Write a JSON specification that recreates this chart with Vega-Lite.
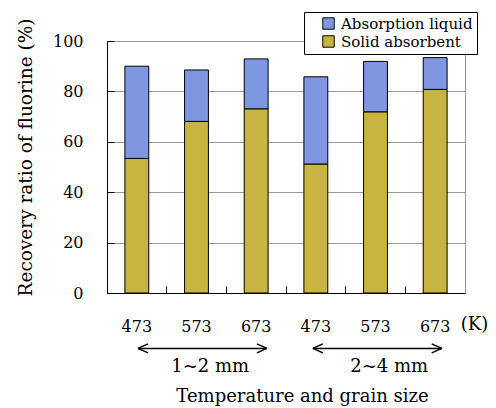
{
  "$schema": "https://vega.github.io/schema/vega-lite/v6.json",
  "width": 358,
  "height": 252,
  "autosize": {"type": "none"},
  "padding": {"left": 107, "top": 41, "right": 31, "bottom": 115},
  "background": "white",
  "config": {
    "font": "DejaVu Serif",
    "view": {"stroke": "#999999", "strokeWidth": 1},
    "axis": {
      "domainColor": "black",
      "tickColor": "black",
      "labelColor": "black",
      "titleColor": "black",
      "labelFont": "DejaVu Serif",
      "titleFont": "DejaVu Serif",
      "titleFontWeight": "normal"
    },
    "legend": {"labelFont": "DejaVu Serif"},
    "text": {"font": "DejaVu Serif"}
  },
  "layer": [
    {
      "data": {
        "values": [
          {"bar": "1~2 mm 473", "type": "Solid absorbent", "value": 53.4, "order": 1},
          {"bar": "1~2 mm 473", "type": "Absorption liquid", "value": 36.6, "order": 2},
          {"bar": "1~2 mm 573", "type": "Solid absorbent", "value": 68.1, "order": 1},
          {"bar": "1~2 mm 573", "type": "Absorption liquid", "value": 20.4, "order": 2},
          {"bar": "1~2 mm 673", "type": "Solid absorbent", "value": 73.1, "order": 1},
          {"bar": "1~2 mm 673", "type": "Absorption liquid", "value": 19.8, "order": 2},
          {"bar": "2~4 mm 473", "type": "Solid absorbent", "value": 51.2, "order": 1},
          {"bar": "2~4 mm 473", "type": "Absorption liquid", "value": 34.6, "order": 2},
          {"bar": "2~4 mm 573", "type": "Solid absorbent", "value": 71.9, "order": 1},
          {"bar": "2~4 mm 573", "type": "Absorption liquid", "value": 20.0, "order": 2},
          {"bar": "2~4 mm 673", "type": "Solid absorbent", "value": 80.8, "order": 1},
          {"bar": "2~4 mm 673", "type": "Absorption liquid", "value": 12.6, "order": 2}
        ]
      },
      "mark": {"type": "bar", "width": {"band": 0.4}, "stroke": "black", "strokeWidth": 1},
      "encoding": {
        "x": {
          "field": "bar",
          "type": "nominal",
          "sort": null,
          "scale": {"paddingInner": 0, "paddingOuter": 0},
          "axis": {
            "title": "Temperature and grain size",
            "titleFontSize": 18,
            "titleX": 195,
            "titleY": 103,
            "titleAlign": "center",
            "titleBaseline": "middle",
            "labelExpr": "split(datum.label, ' ')[2]",
            "labelAngle": 0,
            "labelFontSize": 16,
            "labelBaseline": "middle",
            "labelPadding": 40,
            "bandPosition": 0,
            "tickSize": -7,
            "tickWidth": 1,
            "grid": false
          }
        },
        "y": {
          "field": "value",
          "type": "quantitative",
          "stack": "zero",
          "scale": {"domain": [0, 100], "nice": false},
          "axis": {
            "title": "Recovery ratio of fluorine (%)",
            "titleFontSize": 18.5,
            "titlePadding": 17,
            "titleY": 116,
            "titleAlign": "center",
            "values": [0, 20, 40, 60, 80, 100],
            "labelFontSize": 16,
            "labelPadding": 31,
            "tickSize": -7,
            "tickWidth": 1,
            "gridColor": "#999999",
            "gridOpacity": 1
          }
        },
        "color": {
          "field": "type",
          "type": "nominal",
          "scale": {"domain": ["Absorption liquid", "Solid absorbent"], "range": ["#7f97e0", "#c8b440"]},
          "legend": {
            "title": null,
            "orient": "none",
            "legendX": 197,
            "legendY": -29,
            "direction": "vertical",
            "fillColor": "white",
            "strokeColor": "black",
            "padding": 4,
            "symbolType": "square",
            "symbolSize": 130,
            "symbolStrokeColor": "black",
            "symbolStrokeWidth": 1,
            "symbolOffset": 13,
            "labelFontSize": 15,
            "labelOffset": 5,
            "labelLimit": 300,
            "rowPadding": 1
          }
        },
        "order": {"field": "order", "type": "quantitative"}
      }
    },
    {
      "data": {
        "values": [
          {"group": "1~2 mm", "start": 0.52, "end": 2.68, "mid": 1.73},
          {"group": "2~4 mm", "start": 3.45, "end": 5.61, "mid": 4.73}
        ]
      },
      "layer": [
        {
          "mark": {"type": "rule", "color": "black", "strokeWidth": 1.5},
          "encoding": {
            "x": {"field": "start", "type": "quantitative", "scale": {"domain": [0, 6], "nice": false, "zero": false}, "axis": null},
            "x2": {"field": "end"},
            "y": {"datum": -22}
          }
        },
        {
          "mark": {"type": "point", "shape": "M0,0L1,-0.45M0,0L1,0.45", "filled": false, "stroke": "black", "strokeWidth": 1.5, "size": 400, "opacity": 1},
          "encoding": {
            "x": {"field": "start", "type": "quantitative", "scale": {"domain": [0, 6], "nice": false, "zero": false}, "axis": null},
            "y": {"datum": -22}
          }
        },
        {
          "mark": {"type": "point", "shape": "M0,0L-1,-0.45M0,0L-1,0.45", "filled": false, "stroke": "black", "strokeWidth": 1.5, "size": 400, "opacity": 1},
          "encoding": {
            "x": {"field": "end", "type": "quantitative", "scale": {"domain": [0, 6], "nice": false, "zero": false}, "axis": null},
            "y": {"datum": -22}
          }
        },
        {
          "mark": {"type": "text", "fontSize": 18, "color": "black", "align": "center", "baseline": "middle"},
          "encoding": {
            "x": {"field": "mid", "type": "quantitative", "scale": {"domain": [0, 6], "nice": false, "zero": false}, "axis": null},
            "y": {"datum": -29.5},
            "text": {"field": "group"}
          }
        }
      ]
    },
    {
      "data": {"values": [{"unit": "(K)"}]},
      "mark": {"type": "text", "fontSize": 18, "color": "black", "align": "left", "baseline": "middle"},
      "encoding": {
        "x": {"datum": 5.93, "type": "quantitative", "scale": {"domain": [0, 6], "nice": false, "zero": false}, "axis": null},
        "y": {"datum": -12.8},
        "text": {"field": "unit"}
      }
    }
  ],
  "resolve": {"scale": {"x": "independent"}}
}
